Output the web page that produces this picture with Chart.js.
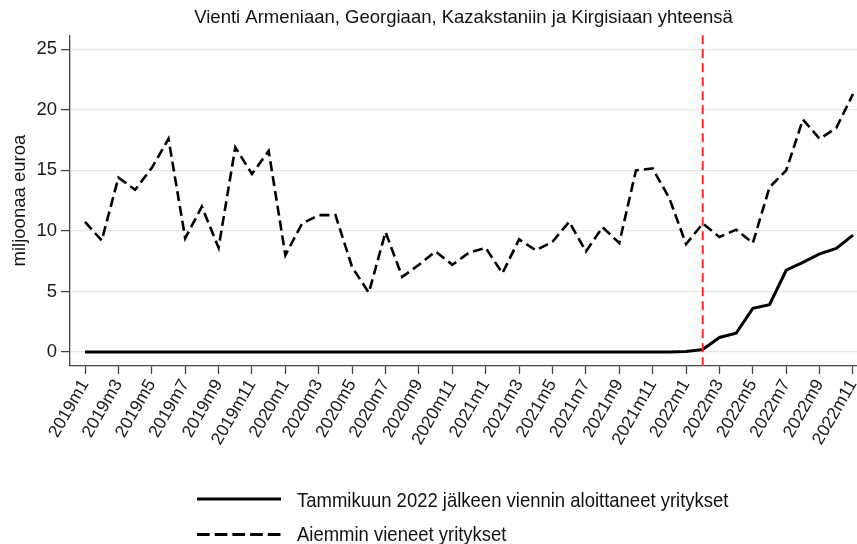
<!DOCTYPE html>
<html>
<head>
<meta charset="utf-8">
<script src="https://cdn.jsdelivr.net/npm/chart.js@4"></script>
<style>
  html, body { margin: 0; padding: 0; background: #fff; }
  #wrap { position: relative; width: 857px; height: 544px; overflow: hidden; }
  #wrap canvas { position: absolute; left: 0; top: 0; }
  .lg { position: absolute; font-family: 'Liberation Sans', Arial, sans-serif; font-size: 21px; color: #111; white-space: nowrap; line-height: 24px; }
  .lg svg { position: absolute; }
  .lg span { position: absolute; left: 100px; top: 0; transform: scaleX(0.88); transform-origin: 0 50%; }
</style>
</head>
<body>
<div id="wrap">
  <canvas id="c" width="857" height="544"></canvas>
  <div class="lg" style="left:197px; top:488px; width:600px; height:24px;">
    <svg width="86" height="24" style="left:0; top:0;"><line x1="0" y1="11" x2="84" y2="11" stroke="#000" stroke-width="3"/></svg>
    <span id="lg1"></span>
  </div>
  <div class="lg" style="left:197px; top:521.5px; width:600px; height:24px;">
    <svg width="86" height="24" style="left:0; top:0;"><line x1="0" y1="12.5" x2="84" y2="12.5" stroke="#000" stroke-width="3" stroke-dasharray="12.7,5"/></svg>
    <span id="lg2"></span>
  </div>
</div>
<script>
const months = [
  '2019m1','2019m2','2019m3','2019m4','2019m5','2019m6','2019m7','2019m8','2019m9','2019m10','2019m11','2019m12',
  '2020m1','2020m2','2020m3','2020m4','2020m5','2020m6','2020m7','2020m8','2020m9','2020m10','2020m11','2020m12',
  '2021m1','2021m2','2021m3','2021m4','2021m5','2021m6','2021m7','2021m8','2021m9','2021m10','2021m11','2021m12',
  '2022m1','2022m2','2022m3','2022m4','2022m5','2022m6','2022m7','2022m8','2022m9','2022m10','2022m11'
];
const newExporters = [
  0,0,0,0,0,0,0,0,0,0,0,0,
  0,0,0,0,0,0,0,0,0,0,0,0,
  0,0,0,0,0,0,0,0,0,0,0,0,
  0.05,0.2,1.2,1.55,3.6,3.9,6.75,7.4,8.1,8.55,9.65
];
const earlierExporters = [
  10.75,9.2,14.4,13.4,15.2,17.6,9.4,12.0,8.6,16.9,14.7,16.6,
  8.0,10.6,11.3,11.3,7.0,4.9,9.9,6.2,7.2,8.3,7.2,8.2,
  8.6,6.5,9.3,8.4,9.1,10.75,8.3,10.3,9.0,15.0,15.15,12.7,
  8.9,10.6,9.5,10.1,9.0,13.6,15.0,19.2,17.6,18.5,21.3
];
const xTickEvery = 2;
const yTicks = [0, 5, 10, 15, 20, 25];
const eventMonth = '2022m2';
const titleText = 'Vienti Armeniaan, Georgiaan, Kazakstaniin ja Kirgisiaan yhteensä';
const yTitle = 'miljoonaa euroa';
const seriesNames = ['Tammikuun 2022 jälkeen viennin aloittaneet yritykset', 'Aiemmin vieneet yritykset'];

document.getElementById('lg1').textContent = seriesNames[0];
document.getElementById('lg2').textContent = seriesNames[1];

const FONT = "'Liberation Sans', Arial, sans-serif";
const toPts = arr => arr.map((v, i) => ({ x: i, y: v }));

const eventLine = {
  id: 'eventLine',
  afterDatasetsDraw(chart) {
    const xs = chart.scales.x, area = chart.chartArea, ctx = chart.ctx;
    const px = xs.getPixelForValue(months.indexOf(eventMonth));
    ctx.save();
    ctx.strokeStyle = '#ff2b2b';
    ctx.lineWidth = 2;
    ctx.setLineDash([9, 5]);
    ctx.beginPath();
    ctx.moveTo(px, area.top);
    ctx.lineTo(px, area.bottom);
    ctx.stroke();
    ctx.restore();
  }
};

new Chart(document.getElementById('c'), {
  type: 'line',
  data: {
    datasets: [
      { label: seriesNames[0], data: toPts(newExporters), borderColor: '#000', borderWidth: 3, pointRadius: 0, tension: 0, fill: false },
      { label: seriesNames[1], data: toPts(earlierExporters), borderColor: '#000', borderWidth: 2.6, borderDash: [10, 5], pointRadius: 0, tension: 0, fill: false }
    ]
  },
  options: {
    responsive: false,
    animation: false,
    events: [],
    layout: { padding: { left: 0, right: 0, top: 0, bottom: 90 } },
    plugins: {
      legend: { display: false },
      tooltip: { enabled: false },
      title: {
        display: true, text: titleText, color: '#111', fullSize: false,
        font: { family: FONT, size: 18.5, weight: 'normal' },
        padding: { top: 7, bottom: 6 }
      }
    },
    scales: {
      x: {
        type: 'linear', min: -0.9, max: 46.24,
        afterBuildTicks: s => { s.ticks = months.map((m, i) => i).filter(i => i % xTickEvery === 0).map(i => ({ value: i })); },
        afterFit: s => { s.height = 88; s.paddingLeft = 0; s.paddingRight = 0; },
        ticks: {
          autoSkip: false, minRotation: 60, maxRotation: 60, padding: 2,
          color: '#1a1a1a', font: { family: FONT, size: 17.5 },
          callback: v => months[v]
        },
        grid: { display: true, drawOnChartArea: false, drawTicks: true, tickLength: 8, tickColor: '#444', tickWidth: 1.3 },
        border: { display: true, color: '#444', width: 1.3 }
      },
      y: {
        type: 'linear', min: -1.155, max: 26.155,
        afterBuildTicks: s => { s.ticks = yTicks.map(v => ({ value: v })); },
        afterFit: s => { s.width = 70; s.paddingTop = 0; s.paddingBottom = 0; },
        ticks: { padding: 4, color: '#1a1a1a', font: { family: FONT, size: 18.5 } },
        grid: { color: '#e6e6e6', lineWidth: 1.2, drawTicks: true, tickLength: 9, tickColor: '#444', tickWidth: 1.3 },
        border: { display: true, color: '#444', width: 1.3 },
        title: { display: true, text: yTitle, color: '#111', font: { family: FONT, size: 18.5 }, padding: { top: 9, bottom: 0 } }
      }
    }
  },
  plugins: [eventLine]
});
</script>
</body>
</html>
